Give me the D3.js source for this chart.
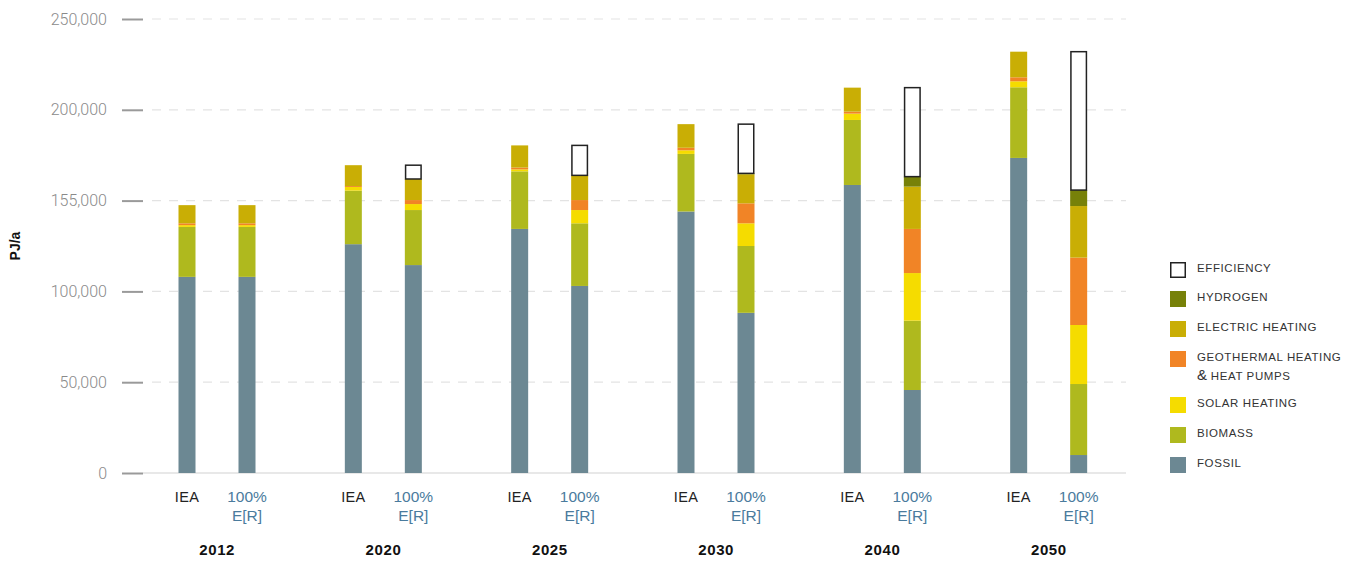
<!DOCTYPE html>
<html>
<head>
<meta charset="utf-8">
<script src="https://cdn.jsdelivr.net/npm/d3@7"></script>
<style>
  body { margin: 0; background: #fff; }
  svg { font-family: "Liberation Sans", Arial, sans-serif; }
</style>
</head>
<body>
<div id="chart"></div>
<script>
// Heat supply by source, PJ/a
const years = ["2012", "2020", "2025", "2030", "2040", "2050"];
const scenarios = ["IEA", "100% E[R]"];

// values ordered year by year: [IEA, 100% E[R]]
const fossil     = [108000, 108000, 126000, 114500, 134400, 103000, 144000, 88200, 158600, 45700, 173500, 9900];
const biomass    = [27500, 27500, 29500, 30300, 31700, 34500, 31700, 36800, 35800, 38200, 38900, 39100];
const solar      = [1000, 1000, 2000, 3300, 1100, 7300, 2000, 12500, 3500, 26200, 3300, 32500];
const geothermal = [1000, 1000, 500, 2200, 1000, 5500, 1400, 11000, 1100, 24300, 2200, 37100];
const electric   = [10000, 10000, 11500, 11600, 12200, 13600, 13000, 16000, 13200, 23300, 14100, 28400];
const hydrogen   = [0, 0, 0, 0, 0, 0, 0, 500, 0, 5500, 0, 8800];
const efficiency = [0, 0, 0, 7600, 0, 16500, 0, 27100, 0, 49000, 0, 76200];

const yTicks = [0, 50000, 100000, 150000, 200000, 250000];
const yTickLabels = ["0", "50,000", "100,000", "155,000", "200,000", "250,000"];

const keys = ["fossil", "biomass", "solar", "geothermal", "electric", "hydrogen", "efficiency"];
const colors = {
  fossil: "#6c8893",
  biomass: "#afb91e",
  solar: "#f5dc00",
  geothermal: "#f18426",
  electric: "#c9ae05",
  hydrogen: "#778109",
  efficiency: "#ffffff",
};
const legendItems = [
  { key: "efficiency", label: ["EFFICIENCY"] },
  { key: "hydrogen", label: ["HYDROGEN"] },
  { key: "electric", label: ["ELECTRIC HEATING"] },
  { key: "geothermal", label: ["GEOTHERMAL HEATING", "& HEAT PUMPS"] },
  { key: "solar", label: ["SOLAR HEATING"] },
  { key: "biomass", label: ["BIOMASS"] },
  { key: "fossil", label: ["FOSSIL"] },
];

const series = { fossil, biomass, solar, geothermal, electric, hydrogen, efficiency };
const rows = [];
years.forEach((yr, i) => {
  scenarios.forEach((sc, j) => {
    const k = i * 2 + j;
    const r = { year: yr, scenario: sc };
    keys.forEach((key) => (r[key] = series[key][k]));
    rows.push(r);
  });
});

const width = 1355, height = 561;
const svg = d3.select("#chart").append("svg")
  .attr("width", width).attr("height", height);

const x = d3.scaleBand().domain(years).range([134, 1132]).padding(0);
const xs = d3.scalePoint().domain(scenarios).range([53, 113]);
const y = d3.scaleLinear().domain([0, 250000]).range([473, 19]);
const barW = 17;

// grid
svg.append("g")
  .selectAll("line")
  .data(yTicks.filter((d) => d > 0))
  .join("line")
  .attr("x1", 152).attr("x2", 1126)
  .attr("y1", (d) => y(d)).attr("y2", (d) => y(d))
  .attr("stroke", "#e3e3e3")
  .attr("stroke-width", 1.2)
  .attr("stroke-dasharray", "9,8");

svg.append("line")
  .attr("x1", 143).attr("x2", 1126)
  .attr("y1", y(0)).attr("y2", y(0))
  .attr("stroke", "#e0e0e0").attr("stroke-width", 1.5);

// y axis
const yAxis = d3.axisLeft(y)
  .tickValues(yTicks)
  .tickFormat((d, i) => yTickLabels[i])
  .tickSize(21)
  .tickPadding(15);
const ya = svg.append("g").attr("transform", "translate(143,0)").call(yAxis);
ya.select(".domain").remove();
ya.selectAll(".tick line").attr("stroke", "#9a9a9a").attr("stroke-width", 2);
ya.selectAll(".tick text")
  .attr("fill", "#8a8a8a")
  .style("font-family", "Roboto, sans-serif")
  .style("font-size", "16px")
  .style("font-weight", 300);

svg.append("text")
  .attr("transform", `translate(20,${y(125000)}) rotate(-90)`)
  .attr("text-anchor", "middle")
  .style("font-size", "14px")
  .style("font-weight", 700)
  .attr("fill", "#111")
  .text("PJ/a");

// bars
const stack = d3.stack().keys(keys);
const stacked = stack(rows);
const bx = (d) => x(d.data.year) + xs(d.data.scenario) - barW / 2;

svg.append("g")
  .selectAll("g")
  .data(stacked)
  .join("g")
  .each(function (s) {
    const isEff = s.key === "efficiency";
    d3.select(this).selectAll("rect")
      .data(s.filter((d) => d[1] - d[0] > 0))
      .join("rect")
      .attr("x", (d) => bx(d) + (isEff ? 0.75 : 0))
      .attr("width", barW - (isEff ? 1.5 : 0))
      .attr("y", (d) => y(d[1]))
      .attr("height", (d) => y(d[0]) - y(d[1]))
      .attr("fill", colors[s.key])
      .attr("stroke", isEff ? "#222" : "none")
      .attr("stroke-width", isEff ? 1.5 : 0);
  });

// category labels
const lab = svg.append("g");
years.forEach((yr) => {
  lab.append("text")
    .attr("x", x(yr) + xs("IEA")).attr("y", 502)
    .attr("text-anchor", "middle")
    .style("font-size", "14.5px").style("letter-spacing", "0.3px").attr("fill", "#222")
    .text("IEA");
  const t = lab.append("text")
    .attr("x", x(yr) + xs("100% E[R]")).attr("y", 502)
    .attr("text-anchor", "middle")
    .style("font-size", "15.5px").attr("fill", "#4a7b9d");
  t.append("tspan").attr("x", x(yr) + xs("100% E[R]")).text("100%");
  t.append("tspan").attr("x", x(yr) + xs("100% E[R]")).attr("dy", 19).text("E[R]");
  lab.append("text")
    .attr("x", x(yr) + x.bandwidth() / 2).attr("y", 555)
    .attr("text-anchor", "middle")
    .style("font-size", "15px").style("letter-spacing", "0.6px")
    .style("font-weight", 700).attr("fill", "#111")
    .text(yr);
});

// legend
const legY = [270, 299, 329, 359, 405, 435, 465];
const leg = svg.append("g").attr("transform", "translate(1170,0)");
legendItems.forEach((it, i) => {
  const g = leg.append("g").attr("transform", `translate(0,${legY[i]})`);
  g.append("rect")
    .attr("x", it.key === "efficiency" ? 0.75 : 0)
    .attr("y", it.key === "efficiency" ? -7.25 : -8)
    .attr("width", it.key === "efficiency" ? 14.5 : 16)
    .attr("height", it.key === "efficiency" ? 14.5 : 16)
    .attr("fill", colors[it.key])
    .attr("stroke", it.key === "efficiency" ? "#222" : "none")
    .attr("stroke-width", 1.5);
  it.label.forEach((line, li) => {
    const t = g.append("text")
      .attr("x", 27).attr("y", -2 + li * 19)
      .attr("dy", "0.35em")
      .style("font-size", "11.5px").style("letter-spacing", "0.6px")
      .attr("fill", "#333");
    if (line.startsWith("&")) {
      t.append("tspan").style("font-size", "15px").style("letter-spacing", "0").text("&");
      t.append("tspan").text(line.slice(1));
    } else {
      t.text(line);
    }
  });
});
</script>
</body>
</html>
